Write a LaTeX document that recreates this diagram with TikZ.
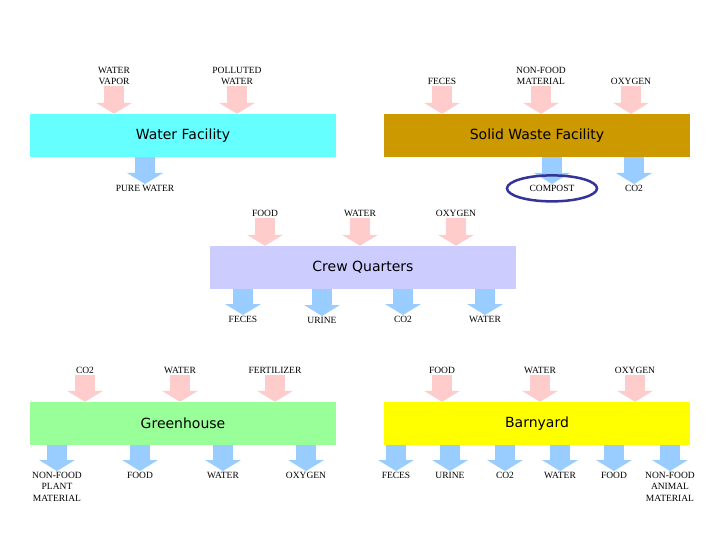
\documentclass[tikz,border=0pt]{standalone}
\usepackage{fontspec}
\setmainfont{Liberation Serif}
\newfontfamily\boxfont{DejaVu Sans}
\usepackage{tikz}
\usetikzlibrary{arrows.meta}
\definecolor{inpink}{RGB}{255,204,204}
\definecolor{outblue}{RGB}{153,204,255}
\definecolor{watercol}{RGB}{102,255,255}
\definecolor{wastecol}{RGB}{204,153,0}
\definecolor{crewcol}{RGB}{204,204,255}
\definecolor{greencol}{RGB}{153,255,153}
\definecolor{barncol}{RGB}{255,255,0}
\definecolor{ringcol}{RGB}{51,51,153}
\tikzset{
  facility/.style={minimum width=306pt,minimum height=43pt,inner sep=0pt,font=\boxfont\fontsize{14}{16}\selectfont},
  lab/.style={font=\fontsize{9.5}{11.5}\selectfont,align=center,inner sep=1pt},
  inlab/.style={lab,anchor=south},
  outlab/.style={lab,anchor=north},
  blockarrow/.style={line width=20pt,-{Triangle[width=36pt,length=11pt,line width=0pt]}},
  inflow/.style={blockarrow,inpink},
  outflow/.style={blockarrow,outblue}
}

\begin{document}
\begin{tikzpicture}[x=1pt,y=-1pt]
    \useasboundingbox[fill=white] (0,0) rectangle (720,540);

    % facilities
    \node[facility,fill=watercol] (water) at (183,135.5) {Water Facility};
    \node[facility,fill=wastecol] (waste) at (537,135.5) {Solid Waste Facility};
    \node[facility,fill=crewcol] (crew) at (363,267.5) {Crew Quarters};
    \node[facility,fill=greencol] (green) at (183,423.5) {Greenhouse};
    \node[facility,fill=barncol] (barn) at (537,423.5) {Barnyard};

    % water and solid waste
    \node[inlab] (wv) at (114,86) {WATER\\VAPOR};
    \node[inlab] (pw) at (237,86) {POLLUTED\\WATER};
    \node[inlab] (fe1) at (442,86) {FECES};
    \node[inlab] (nf1) at (541,86) {NON-FOOD\\MATERIAL};
    \node[inlab] (ox1) at (631,86) {OXYGEN};
    \node[outlab] (pure) at (145,184) {PURE WATER};
    \node[outlab] (comp) at (552,184) {COMPOST};
    \node[outlab] (co1) at (634,184) {CO2};
    \foreach \n in {wv,pw} \draw[inflow] (\n.south) -- (\n.south |- water.north);
    \foreach \n in {fe1,nf1,ox1} \draw[inflow] (\n.south) -- (\n.south |- waste.north);
    \draw[outflow] (pure.north |- water.south) -- (pure.north);
    \foreach \n in {comp,co1} \draw[outflow] (\n.north |- waste.south) -- (\n.north);
    \draw[ringcol,line width=2.5pt] (comp.center) ellipse [x radius=45pt,y radius=13pt];

    % crew
    \node[inlab] (cfo) at (265,218) {FOOD};
    \node[inlab] (cwa) at (360,218) {WATER};
    \node[inlab] (cox) at (456,218) {OXYGEN};
    \node[outlab] (cfe) at (243,315) {FECES};
    \node[outlab] (cur) at (322,316) {URINE};
    \node[outlab] (cco) at (403,315) {CO2};
    \node[outlab] (cwo) at (485,315) {WATER};
    \foreach \n in {cfo,cwa,cox} \draw[inflow] (\n.south) -- (\n.south |- crew.north);
    \foreach \n in {cfe,cur,cco,cwo} \draw[outflow] (\n.north |- crew.south) -- (\n.north);

    % greenhouse
    \node[inlab] (gco) at (85,375) {CO2};
    \node[inlab] (gwa) at (180,375) {WATER};
    \node[inlab] (gfe) at (275,375) {FERTILIZER};
    \node[outlab] (gnf) at (57,471) {NON-FOOD\\PLANT\\MATERIAL};
    \node[outlab] (gfo) at (140,471) {FOOD};
    \node[outlab] (gwo) at (223,471) {WATER};
    \node[outlab] (gox) at (306,471) {OXYGEN};
    \foreach \n in {gco,gwa,gfe} \draw[inflow] (\n.south) -- (\n.south |- green.north);
    \foreach \n in {gnf,gfo,gwo,gox} \draw[outflow] (\n.north |- green.south) -- (\n.north);

    % barnyard
    \node[inlab] (bfo) at (442,375) {FOOD};
    \node[inlab] (bwa) at (540,375) {WATER};
    \node[inlab] (box) at (635,375) {OXYGEN};
    \node[outlab] (bfe) at (396,471) {FECES};
    \node[outlab] (bur) at (450,471) {URINE};
    \node[outlab] (bco) at (505,471) {CO2};
    \node[outlab] (bwo) at (560,471) {WATER};
    \node[outlab] (bfd) at (614,471) {FOOD};
    \node[outlab] (bnf) at (670,471) {NON-FOOD\\ANIMAL\\MATERIAL};
    \foreach \n in {bfo,bwa,box} \draw[inflow] (\n.south) -- (\n.south |- barn.north);
    \foreach \n in {bfe,bur,bco,bwo,bfd,bnf} \draw[outflow] (\n.north |- barn.south) -- (\n.north);
\end{tikzpicture}
\end{document}
